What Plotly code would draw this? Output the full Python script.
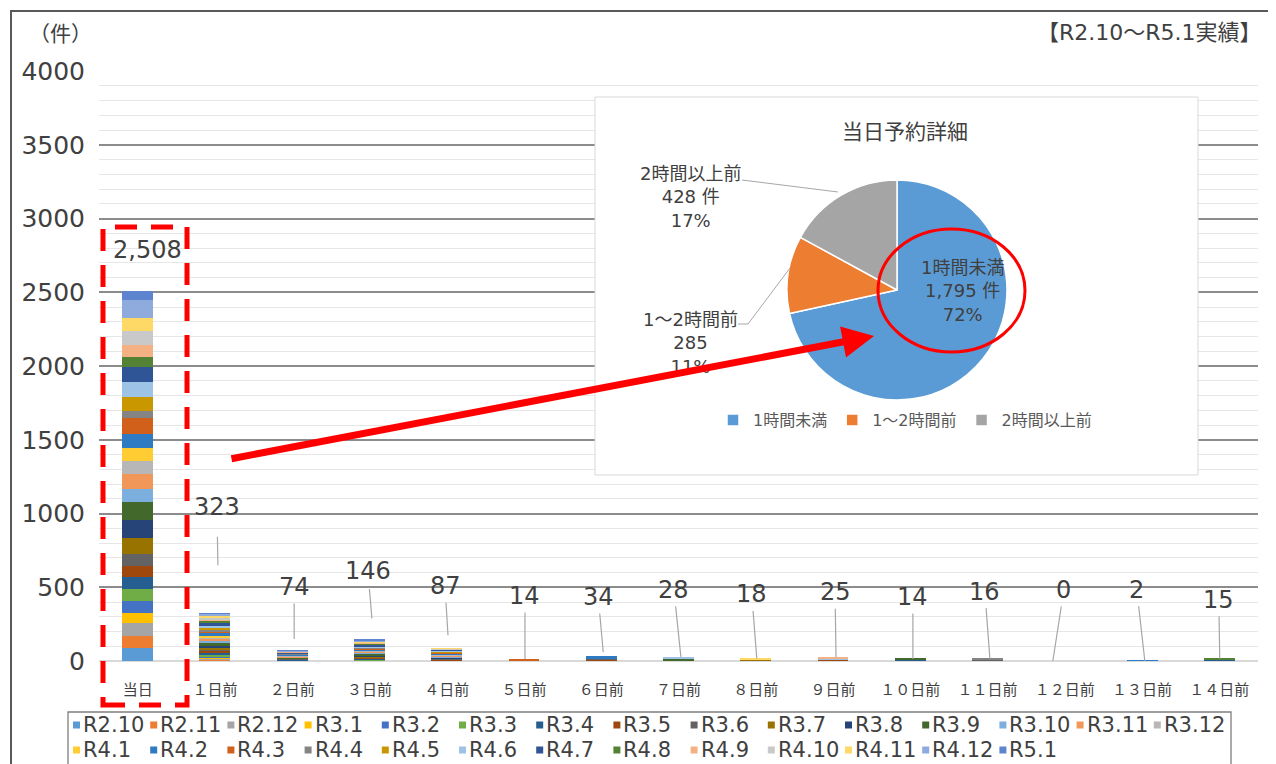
import plotly.graph_objects as go

# ---------------- data ----------------
categories = ["当日", "１日前", "２日前", "３日前", "４日前", "５日前", "６日前", "７日前",
              "８日前", "９日前", "１０日前", "１１日前", "１２日前", "１３日前", "１４日前"]

series_names = ["R2.10", "R2.11", "R2.12", "R3.1", "R3.2", "R3.3", "R3.4", "R3.5", "R3.6",
                "R3.7", "R3.8", "R3.9", "R3.10", "R3.11", "R3.12", "R4.1", "R4.2", "R4.3",
                "R4.4", "R4.5", "R4.6", "R4.7", "R4.8", "R4.9", "R4.10", "R4.11", "R4.12", "R5.1"]

#          当日 1日 2日 3日 4日 5日 6日 7日 8日 9日 10 11 12 13 14
r2_10 = [88, 4, 0, 0, 0, 0, 0, 0, 0, 0, 0, 0, 0, 0, 0]
r2_11 = [81, 6, 0, 0, 0, 0, 0, 0, 0, 0, 0, 0, 0, 0, 0]
r2_12 = [88, 8, 0, 0, 0, 0, 0, 0, 0, 0, 0, 0, 0, 0, 0]
r3_1 = [68, 6, 0, 0, 0, 0, 0, 0, 0, 0, 0, 0, 0, 0, 0]
r3_2 = [81, 8, 0, 0, 0, 0, 0, 0, 0, 0, 0, 0, 0, 0, 0]
r3_3 = [81, 10, 4, 12, 0, 0, 0, 0, 0, 0, 0, 0, 0, 0, 0]
r3_4 = [81, 12, 3, 5, 3, 0, 0, 0, 0, 0, 7, 0, 0, 0, 8]
r3_5 = [75, 14, 5, 4, 8, 0, 8, 0, 0, 10, 0, 0, 0, 0, 0]
r3_6 = [81, 10, 2, 6, 4, 0, 6, 6, 0, 0, 0, 8, 0, 0, 0]
r3_7 = [108, 12, 3, 4, 3, 0, 0, 0, 8, 0, 0, 0, 0, 0, 0]
r3_8 = [122, 14, 2, 6, 3, 0, 0, 0, 0, 0, 0, 0, 0, 0, 0]
r3_9 = [122, 20, 6, 14, 4, 0, 0, 8, 0, 0, 7, 0, 0, 0, 0]
r3_10 = [88, 12, 2, 8, 5, 0, 0, 0, 0, 0, 0, 0, 0, 0, 0]
r3_11 = [102, 14, 6, 3, 8, 6, 0, 0, 0, 0, 0, 0, 0, 0, 0]
r3_12 = [88, 12, 3, 6, 4, 0, 0, 0, 0, 0, 0, 0, 0, 0, 0]
r4_1 = [88, 10, 4, 3, 3, 0, 0, 0, 0, 0, 0, 0, 0, 0, 0]
r4_2 = [95, 18, 2, 10, 8, 0, 20, 0, 0, 0, 0, 0, 0, 2, 0]
r4_3 = [108, 12, 4, 3, 4, 8, 0, 0, 0, 0, 0, 0, 0, 0, 0]
r4_4 = [47, 10, 2, 5, 3, 0, 0, 0, 0, 0, 0, 8, 0, 0, 0]
r4_5 = [95, 14, 3, 3, 3, 0, 0, 0, 0, 0, 0, 0, 0, 0, 0]
r4_6 = [102, 12, 2, 8, 8, 0, 0, 14, 0, 5, 0, 0, 0, 0, 0]
r4_7 = [102, 20, 3, 10, 5, 0, 0, 0, 0, 0, 0, 0, 0, 0, 0]
r4_8 = [68, 14, 2, 12, 2, 0, 0, 0, 0, 0, 0, 0, 0, 0, 7]
r4_9 = [81, 12, 4, 2, 3, 0, 0, 0, 0, 10, 0, 0, 0, 0, 0]
r4_10 = [95, 10, 2, 4, 4, 0, 0, 0, 0, 0, 0, 0, 0, 0, 0]
r4_11 = [88, 12, 3, 3, 2, 0, 0, 0, 10, 0, 0, 0, 0, 0, 0]
r4_12 = [122, 14, 4, 10, 0, 0, 0, 0, 0, 0, 0, 0, 0, 0, 0]
r5_1 = [63, 3, 3, 5, 0, 0, 0, 0, 0, 0, 0, 0, 0, 0, 0]

series_values = [r2_10, r2_11, r2_12, r3_1, r3_2, r3_3, r3_4, r3_5, r3_6, r3_7, r3_8, r3_9,
                 r3_10, r3_11, r3_12, r4_1, r4_2, r4_3, r4_4, r4_5, r4_6, r4_7, r4_8, r4_9,
                 r4_10, r4_11, r4_12, r5_1]

pie_labels = ["1時間未満", "1～2時間前", "2時間以上前"]
pie_values = [1795, 285, 428]
pie_units = [" 件", "", " 件"]

y_ticks = [0, 500, 1000, 1500, 2000, 2500, 3000, 3500, 4000]
y_max = 4000

# ---------------- styles ----------------
series_colors = ["#5B9BD5", "#ED7D31", "#A5A5A5", "#FFC000", "#4472C4", "#70AD47",
                 "#255E91", "#9E480E", "#636363", "#997300", "#264478", "#43682B",
                 "#7CAFDD", "#F1975A", "#B7B7B7", "#FFCD33", "#2E7BC4", "#D0601A",
                 "#848484", "#C99700", "#9DC3E6", "#2F5597", "#548235", "#F4B183",
                 "#C9C9C9", "#FFD966", "#8FAADC", "#5E84CF"]
pie_colors = ["#5B9BD5", "#ED7D31", "#A5A5A5"]

# page body has an 8px margin: build the figure so the plot lands at viewport pixels
OFF = 8
VW, VH = 1276, 764
PL, PR, PT, PB = 99, 1258, 71, 661          # plot area in viewport pixels
W, H = VW - OFF, VH - OFF
PW, PH = PR - PL, PB - PT
ML, MT = PL - OFF, PT - OFF
MR, MB = W - (PR - OFF), H - (PB - OFF)


def px(x):
    return (x - PL) / PW


def py(y):
    return (PB - y) / PH


def xd(x):
    return px(x) * len(categories) - 0.5


def yd(y):
    return py(y) * y_max


LATIN = "DejaVu Sans"
CJK = "Noto Sans CJK JP"
MIX = "DejaVu Sans, Noto Sans CJK JP"
TXT = "#404040"

fig = go.Figure()
for name, vals, col in zip(series_names, series_values, series_colors):
    fig.add_trace(go.Bar(x=categories, y=vals, name=name, width=0.4,
                         marker=dict(color=col, line=dict(width=0)), showlegend=False))

fig.add_trace(go.Pie(labels=pie_labels, values=pie_values, sort=False, direction="clockwise",
                     rotation=0, textinfo="none",
                     marker=dict(colors=pie_colors, line=dict(color="white", width=1.5)),
                     domain=dict(x=[px(787), px(1007)], y=[py(400), py(180)]),
                     showlegend=True))

totals = [sum(v[i] for v in series_values) for i in range(len(categories))]

# label placement styles (pixels): line-end x offset, gap above bar, text offset, start gap
lbl_end_dx = [10, 3, 2, 2.5, 1.3, 1, 2, 2.4, 1, 3, 2.6, 2.3, -12, 2.7, 0.4]
lbl_gap = [41, 48, 11, 21, 13, 0, 4, 0, 0, 0, 0, 0, 0, 0, 0]
lbl_ax = [0, -1, 0, -4, -3, 0, -5, -7, -5, -1, 0, -5, 11, -8, -1]
lbl_ay = [0, -58, -52, -47, -49, -63, -55, -67, -64, -65, -62, -67, -71, -71, -59]
lbl_sso = [0, 14, 1, 2, 1, 1, 1, 1, 1, 1, 1, 1, 1, 1, 1]

annotations = []
for i, (cat, tot) in enumerate(zip(categories, totals)):
    show_line = i > 0
    annotations.append(dict(
        x=cat, y=tot, xref="x", yref="y", text=f"{tot:,}",
        xshift=lbl_end_dx[i], yshift=lbl_gap[i],
        showarrow=show_line, ax=lbl_ax[i], ay=lbl_ay[i] if show_line else 0,
        arrowhead=0, arrowwidth=1.2, arrowcolor="#A6A6A6", standoff=0,
        startstandoff=lbl_sso[i],
        font=dict(family=LATIN, size=24, color=TXT)))


def paper_text(x, y, text, size, family=MIX, xanchor="center", color=TXT):
    return dict(x=px(x), y=py(y), xref="paper", yref="paper", showarrow=False,
                xanchor=xanchor, yanchor="middle", text=text,
                font=dict(family=family, size=size, color=color))


# pie title and labels
annotations.append(paper_text(905, 130, "当日予約詳細", 21, family=CJK))
pie_pos = [(962, 291), (690, 343), (690, 197)]
tot_pie = sum(pie_values)
for lab, val, unit, (lx, ly) in zip(pie_labels, pie_values, pie_units, pie_pos):
    pct = round(val / tot_pie * 100)
    annotations.append(paper_text(lx, ly, f"{lab}<br>{val:,}{unit}<br>{pct}%", 18))

# corner texts
annotations.append(paper_text(60, 32, "（件）", 21, family=CJK))
annotations.append(paper_text(1264, 32, "【R2.10～R5.1実績】", 22, xanchor="right"))

# red arrow
annotations.append(dict(x=px(874), y=py(336), xref="paper", yref="paper", text="",
                        showarrow=True, ax=230 - 874, ay=459 - 336, arrowhead=2,
                        arrowsize=0.9, arrowwidth=7, arrowcolor="#FF0000", standoff=0))

shapes = []
# inset box for the pie (between gridlines and traces)
shapes.append(dict(type="rect", xref="x", yref="y", layer="between",
                   x0=xd(595), x1=xd(1198), y0=yd(475), y1=yd(97),
                   fillcolor="white", line=dict(color="#D9D9D9", width=1)))
# pie leader lines
shapes.append(dict(type="path", xref="paper", yref="paper", layer="above",
                   path=f"M{px(742)},{py(180)} L{px(838)},{py(192)}",
                   line=dict(color="#A6A6A6", width=1)))
shapes.append(dict(type="path", xref="paper", yref="paper", layer="above",
                   path=f"M{px(738)},{py(324)} L{px(748)},{py(324)} L{px(790)},{py(268)}",
                   line=dict(color="#A6A6A6", width=1)))
# red circle
shapes.append(dict(type="circle", xref="paper", yref="paper", layer="above",
                   x0=px(878), x1=px(1025), y0=py(352), y1=py(229),
                   line=dict(color="#FF0000", width=3)))
# red dashed box around 当日
shapes.append(dict(type="rect", xref="paper", yref="paper", layer="above",
                   x0=px(103), x1=px(187), y0=py(705), y1=py(227),
                   line=dict(color="#FF0000", width=5, dash="22px,14px")))
# outer frame
shapes.append(dict(type="rect", xref="paper", yref="paper", layer="above",
                   x0=px(11), x1=px(1300), y0=py(800), y1=py(11),
                   line=dict(color="#595959", width=2)))
# bar legend box
shapes.append(dict(type="rect", xref="paper", yref="paper", layer="above",
                   x0=px(68), x1=px(1231), y0=py(800), y1=py(712),
                   line=dict(color="#7F7F7F", width=1.3)))

# bar legend entries
leg_x0, leg_step = 73, 77.2
row_y = [725, 750]
for k, (name, col) in enumerate(zip(series_names, series_colors)):
    row = 0 if k < 15 else 1
    colk = k if k < 15 else k - 15
    mx = leg_x0 + colk * leg_step
    my = row_y[row]
    shapes.append(dict(type="rect", xref="paper", yref="paper", layer="above",
                       x0=px(mx), x1=px(mx + 7), y0=py(my + 3.5), y1=py(my - 3.5),
                       fillcolor=col, line=dict(width=0)))
    annotations.append(paper_text(mx + 8, my, name, 21, family=LATIN, xanchor="left"))

fig.update_layout(
    width=W, height=H,
    margin=dict(l=ML, r=MR, t=MT, b=MB, pad=0),
    paper_bgcolor="white", plot_bgcolor="white",
    barmode="stack", bargap=0.6,
    showlegend=True,
    legend=dict(orientation="h", x=px(905), y=py(420), xanchor="center", yanchor="middle",
                traceorder="normal",
                font=dict(family=MIX, size=16, color="#595959"), itemwidth=30,
                bgcolor="rgba(0,0,0,0)", itemclick=False),
    xaxis=dict(type="category", showgrid=False, showline=False, ticks="",
               range=[-0.5, len(categories) - 0.5],
               tickfont=dict(family=CJK, size=15, color=TXT), ticklabelstandoff=18),
    yaxis=dict(range=[0, y_max], tickvals=y_ticks, ticks="", showline=False,
               showgrid=True, gridcolor="#8C8C8C", gridwidth=1.5,
               zeroline=True, zerolinecolor="#D9D9D9", zerolinewidth=1.5,
               minor=dict(dtick=100, showgrid=True, gridcolor="#E6E6E6", gridwidth=1),
               tickfont=dict(family=LATIN, size=25, color=TXT), ticklabelstandoff=13),
    annotations=annotations,
    shapes=shapes,
)

fig.write_html("out.html")
